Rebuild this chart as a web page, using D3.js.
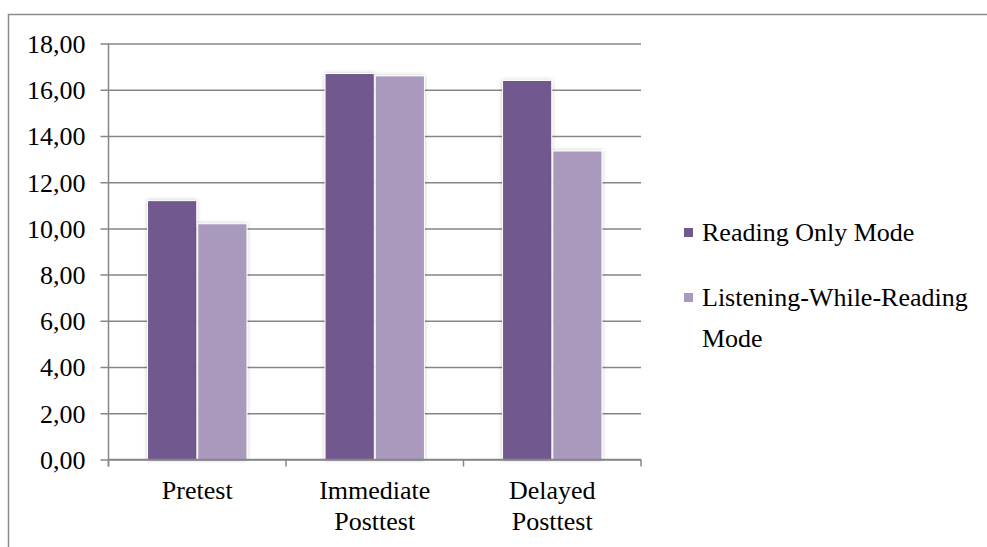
<!DOCTYPE html>
<html>
<head>
<meta charset="utf-8">
<script src="https://cdn.jsdelivr.net/npm/d3@7"></script>
<style>
  html, body { margin: 0; padding: 0; background: #fff; }
</style>
</head>
<body>
<svg id="chart" width="987" height="547"></svg>
<script>
// Mean scores per test occasion for the two reading modes
const categories = [["Pretest"], ["Immediate", "Posttest"], ["Delayed", "Posttest"]];
const seriesNames = ["Reading Only Mode", "Listening-While-Reading Mode"];
const readingOnly = [11.2, 16.7, 16.4];
const listeningWhileReading = [10.2, 16.6, 13.35];
const yTicks = [0, 2, 4, 6, 8, 10, 12, 14, 16, 18];
const colors = ["#71588f", "#a99abd"];

const FONT = '"Liberation Serif"';
const FONT_SIZE = "26px";
const svg = d3.select("#chart");
const margin = { left: 108.5, right: 641, top: 43.5, bottom: 459.5 };

// Outer chart frame
svg.append("rect")
  .attr("x", 8.5).attr("y", 14.5)
  .attr("width", 1000).attr("height", 600)
  .attr("fill", "none").attr("stroke", "#8c8c8c").attr("stroke-width", 1.5);

// Soft shadow for the bars
const defs = svg.append("defs");
const f = defs.append("filter").attr("id", "shadow")
  .attr("x", "-20%").attr("y", "-10%").attr("width", "140%").attr("height", "120%");
f.append("feGaussianBlur").attr("in", "SourceAlpha").attr("stdDeviation", 2).attr("result", "b");
f.append("feComponentTransfer").attr("in", "b").attr("result", "s")
  .append("feFuncA").attr("type", "linear").attr("slope", 0.22);
const m = f.append("feMerge");
m.append("feMergeNode").attr("in", "s");
m.append("feMergeNode").attr("in", "SourceGraphic");

const x0 = d3.scaleBand()
  .domain(d3.range(categories.length))
  .range([margin.left, margin.right]);

const bw = x0.bandwidth();
const x1 = d3.scaleBand()
  .domain(d3.range(seriesNames.length))
  .range([bw * 0.22, bw * 0.78])
  .paddingInner(0.02);

const y = d3.scaleLinear().domain([0, 18]).range([margin.bottom, margin.top]);

// Horizontal gridlines with tick stubs on the left
const yAxis = d3.axisLeft(y)
  .tickValues(yTicks)
  .tickSize(-(margin.right - margin.left) - 8)
  .tickFormat(d => d3.format(".2f")(d).replace(".", ","));

const gy = svg.append("g")
  .attr("transform", `translate(${margin.left - 8},0)`)
  .call(yAxis);
gy.select(".domain").remove();
gy.selectAll(".tick line").attr("stroke", "#868686").attr("stroke-width", 1.5);
gy.selectAll(".tick text")
  .attr("x", -15)
  .attr("dy", "0.34em")
  .attr("fill", "#000")
  .style("font-family", FONT)
  .style("font-size", FONT_SIZE);

// Vertical axis line
svg.append("line")
  .attr("x1", margin.left).attr("x2", margin.left)
  .attr("y1", margin.top).attr("y2", margin.bottom + 7)
  .attr("stroke", "#868686").attr("stroke-width", 1.5);

// Bars
const data = [readingOnly, listeningWhileReading];
const groups = svg.append("g").selectAll("g")
  .data(categories)
  .join("g")
  .attr("transform", (d, i) => `translate(${x0(i)},0)`);

groups.selectAll("rect")
  .data((d, i) => data.map((s, k) => ({ k, v: s[i] })))
  .join("rect")
  .attr("x", d => x1(d.k))
  .attr("width", x1.bandwidth())
  .attr("y", d => y(d.v))
  .attr("height", d => y(0) - y(d.v))
  .attr("fill", d => colors[d.k])
  .attr("stroke", "#ffffff")
  .attr("stroke-width", 1)
  .attr("filter", "url(#shadow)");

// Category axis
const gx = svg.append("g")
  .attr("transform", `translate(0,${margin.bottom})`);
gx.append("line")
  .attr("x1", margin.left).attr("x2", margin.right)
  .attr("stroke", "#868686").attr("stroke-width", 1.5);
const boundaries = d3.range(categories.length + 1).map(i => margin.left + i * bw);
gx.selectAll("line.tk").data(boundaries).join("line")
  .attr("class", "tk")
  .attr("x1", d => d).attr("x2", d => d)
  .attr("y1", 0).attr("y2", 7)
  .attr("stroke", "#868686").attr("stroke-width", 1.5);

const labels = svg.append("g").selectAll("text")
  .data(categories)
  .join("text")
  .attr("x", (d, i) => x0(i) + bw / 2)
  .attr("y", 499)
  .attr("text-anchor", "middle")
  .style("font-family", FONT)
  .style("font-size", FONT_SIZE)
  .attr("fill", "#000");
labels.selectAll("tspan")
  .data(d => d)
  .join("tspan")
  .attr("x", function () { return this.parentNode.getAttribute("x"); })
  .attr("dy", (d, i) => i === 0 ? 0 : 31)
  .text(d => d);

// Legend
const legendItems = [
  { lines: ["Reading Only Mode"], color: colors[0], y: 241 },
  { lines: ["Listening-While-Reading", "Mode"], color: colors[1], y: 306 }
];
const lg = svg.append("g").selectAll("g")
  .data(legendItems)
  .join("g");
lg.append("rect")
  .attr("x", 684).attr("y", d => d.y - 13)
  .attr("width", 9).attr("height", 9)
  .attr("fill", d => d.color);
const lt = lg.append("text")
  .attr("x", 702).attr("y", d => d.y)
  .style("font-family", FONT)
  .style("font-size", FONT_SIZE)
  .attr("fill", "#000");
lt.selectAll("tspan")
  .data(d => d.lines)
  .join("tspan")
  .attr("x", 702)
  .attr("dy", (d, i) => i === 0 ? 0 : 41)
  .text(d => d);
</script>
</body>
</html>
